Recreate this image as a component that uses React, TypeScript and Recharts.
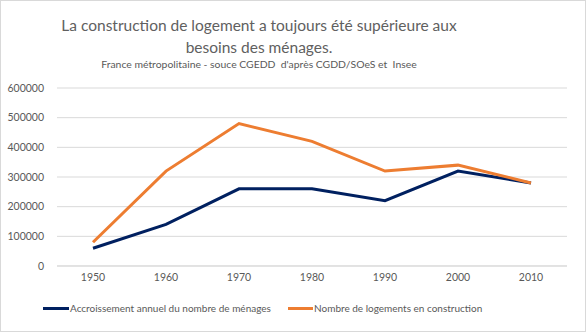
import { LineChart, Line, XAxis, YAxis, CartesianGrid } from 'recharts'

const years = ['1950', '1960', '1970', '1980', '1990', '2000', '2010']
const menages = [60000, 140000, 260000, 260000, 220000, 320000, 280000]
const logements = [80000, 320000, 480000, 420000, 320000, 340000, 280000]
const yTicks = [0, 100000, 200000, 300000, 400000, 500000, 600000]

const NAVY = '#002060'
const ORANGE = '#ED7D31'
const TEXT = '#595959'
const FONT = 'Lato, "Open Sans", sans-serif'

const data = years.map((y, i) => ({ year: y, menages: menages[i], logements: logements[i] }))

export default function App() {
  return (
    <div style={{
      position: 'absolute', left: 0, top: 0, width: 586, height: 332,
      boxSizing: 'border-box', border: '1px solid #d9d9d9', background: '#fff',
      fontFamily: FONT, color: TEXT,
    }}>
      <div style={{ position: 'absolute', left: 0, width: 516, top: 13, textAlign: 'center', fontSize: 15.5, lineHeight: '22px', color: '#606060' }}>
        La construction de logement a toujours été supérieure aux<br />besoins des ménages.
      </div>
      <div style={{ position: 'absolute', left: 0, width: 516, top: 57, textAlign: 'center', fontSize: 10.4, color: TEXT }}>
        France métropolitaine - souce CGEDD&nbsp; d'après CGDD/SOeS et&nbsp; Insee
      </div>
      <div style={{ position: 'absolute', left: -1, top: -1 }}>
        <LineChart width={586} height={332} data={data}
                   margin={{ top: 88, right: 19, left: 0, bottom: 36 }}>
          <CartesianGrid stroke="#d9d9d9" vertical={false} />
          <XAxis dataKey="year" height={30} padding={{ left: 36, right: 36 }}
            tick={{ fill: TEXT, fontSize: 10.5, fontFamily: FONT }}
            axisLine={{ stroke: '#d9d9d9' }} tickLine={false} tickSize={0} tickMargin={8} />
          <YAxis width={57} domain={[0, 600000]} ticks={yTicks}
            tick={{ fill: TEXT, fontSize: 10.5, fontFamily: FONT }}
            axisLine={false} tickLine={false} tickSize={0} tickMargin={13} />
          <Line dataKey="menages" stroke={NAVY} strokeWidth={3} dot={false} isAnimationActive={false} />
          <Line dataKey="logements" stroke={ORANGE} strokeWidth={3} dot={false} isAnimationActive={false} />
        </LineChart>
      </div>
      <div style={{ position: 'absolute', top: 301, left: 42, fontSize: 10, display: 'flex', alignItems: 'center', whiteSpace: 'nowrap' }}>
        <span style={{ display: 'inline-block', width: 26, height: 3, background: NAVY, marginRight: 1 }} />
        <span style={{ width: 218 }}>Accroissement annuel du nombre de ménages</span>
        <span style={{ display: 'inline-block', width: 25, height: 3, background: ORANGE, marginRight: 1 }} />
        <span>Nombre de logements en construction</span>
      </div>
    </div>
  )
}
